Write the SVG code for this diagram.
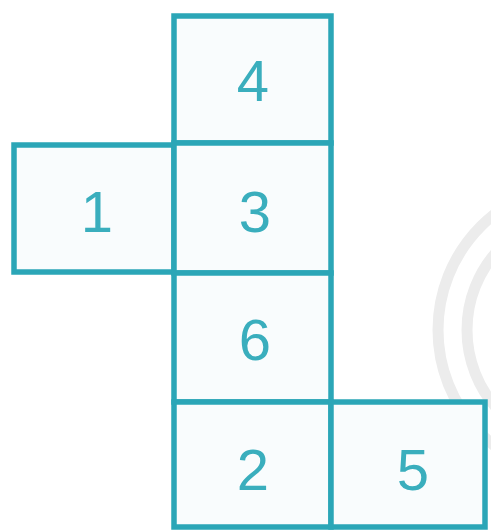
<svg xmlns="http://www.w3.org/2000/svg" width="491" height="532" viewBox="0 0 491 532">
<style>
.sq{fill:#f9fcfd;stroke:#2ba6b7;stroke-width:5.5}
.n{font-family:"Liberation Sans",Arial,sans-serif;font-size:58px;fill:#3aaebd;text-anchor:middle}
.wm{fill:none;stroke:#ececec;stroke-width:11}
</style>
<rect width="491" height="532" fill="#ffffff"/>
<g id="watermark">
<circle class="wm" cx="585" cy="330" r="147"/>
<circle class="wm" cx="585" cy="330" r="118" stroke-width="6"/>
</g>
<g id="connectors"></g>
<g id="sq4"><rect class="sq" x="174" y="16" width="157" height="127"/><text class="n" x="253" y="101">4</text></g>
<g id="sq1"><rect class="sq" x="14" y="145" width="160" height="127"/><text class="n" x="97" y="232">1</text></g>
<g id="sq3"><rect class="sq" x="174" y="143" width="157" height="130"/><text class="n" x="255" y="232">3</text></g>
<g id="sq6"><rect class="sq" x="174" y="273" width="157" height="129"/><text class="n" x="255" y="360">6</text></g>
<g id="sq2"><rect class="sq" x="174" y="402" width="157" height="125"/><text class="n" x="253" y="490">2</text></g>
<g id="sq5"><rect class="sq" x="331" y="402" width="154" height="125"/><text class="n" x="413" y="490">5</text></g>
</svg>
